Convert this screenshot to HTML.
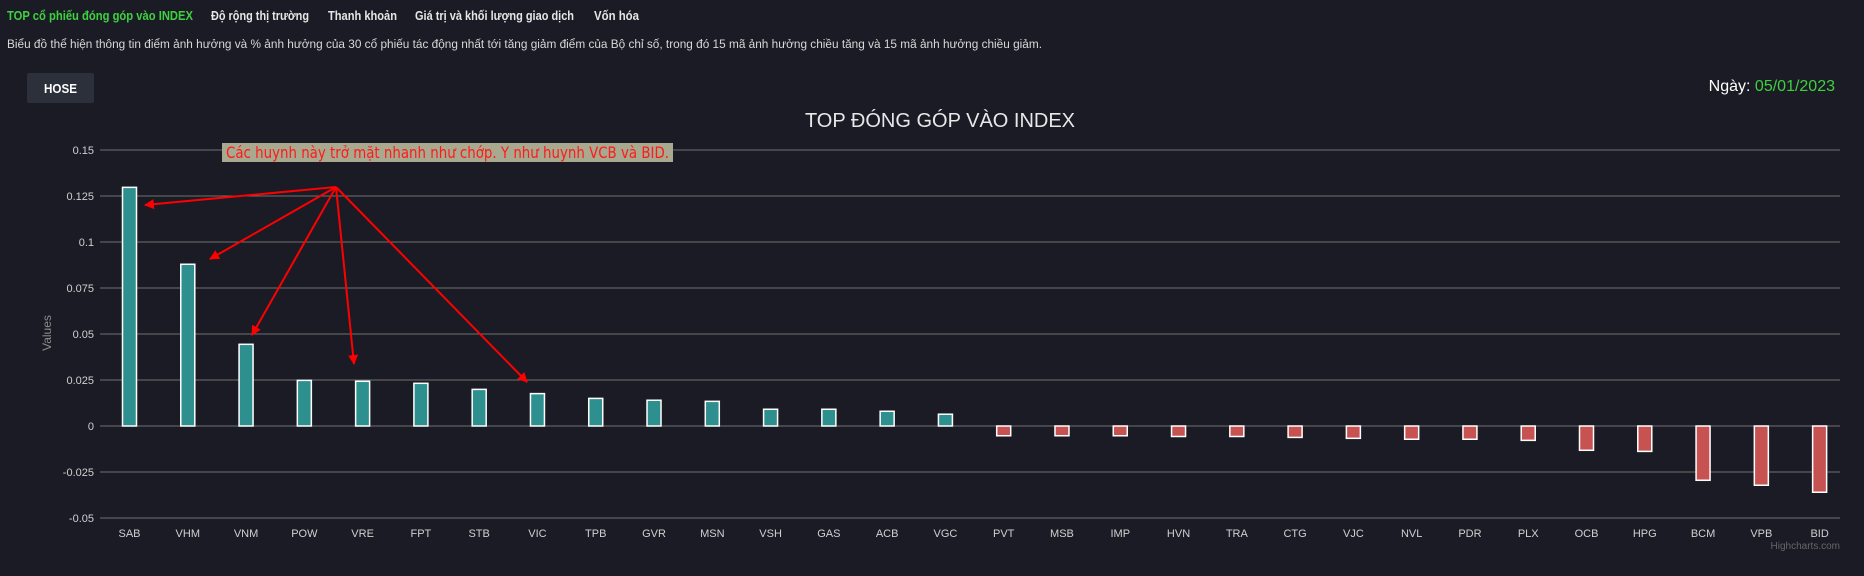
<!DOCTYPE html>
<html><head><meta charset="utf-8"><style>
body{margin:0;width:1864px;height:571px;background:#1b1b25;overflow:hidden;font-family:"Liberation Sans",sans-serif;}
</style></head><body>
<svg width="1864" height="571" xmlns="http://www.w3.org/2000/svg">
<rect width="1864" height="571" fill="#1b1b25"/>
<g font-family="'Liberation Sans',sans-serif" font-weight="bold" font-size="13">
<text x="7" y="20" fill="#3ed13e" textLength="186" lengthAdjust="spacingAndGlyphs">TOP cổ phiếu đóng góp vào INDEX</text>
<text x="211" y="20" fill="#e6e6e6" textLength="98" lengthAdjust="spacingAndGlyphs">Độ rộng thị trường</text>
<text x="328" y="20" fill="#e6e6e6" textLength="69" lengthAdjust="spacingAndGlyphs">Thanh khoản</text>
<text x="415" y="20" fill="#e6e6e6" textLength="159" lengthAdjust="spacingAndGlyphs">Giá trị và khối lượng giao dịch</text>
<text x="594" y="20" fill="#e6e6e6" textLength="45" lengthAdjust="spacingAndGlyphs">Vốn hóa</text>
</g>
<text x="7" y="48" fill="#d8d8d8" font-size="12.3" textLength="1035" lengthAdjust="spacingAndGlyphs">Biểu đồ thể hiện thông tin điểm ảnh hưởng và % ảnh hưởng của 30 cổ phiếu tác động nhất tới tăng giảm điểm của Bộ chỉ số, trong đó 15 mã ảnh hưởng chiều tăng và 15 mã ảnh hưởng chiều giảm.</text>
<rect x="27" y="73" width="67" height="30" rx="2" fill="#2b303b"/>
<text x="60.5" y="93" fill="#fff" font-size="13" font-weight="bold" text-anchor="middle" textLength="33" lengthAdjust="spacingAndGlyphs">HOSE</text>
<text x="1835" y="91" text-anchor="end" font-size="16"><tspan fill="#fff">Ngày: </tspan><tspan fill="#3ed13e">05/01/2023</tspan></text>
<text x="940" y="127" text-anchor="middle" fill="#e8e8e8" font-size="20">TOP ĐÓNG GÓP VÀO INDEX</text>
<text transform="translate(51,333) rotate(-90)" text-anchor="middle" fill="#8a8a8a" font-size="12">Values</text>
<g id="grid"></g><g id="bars"></g><g id="xl"></g>
<text x="1840" y="549" text-anchor="end" fill="#666" font-size="10">Highcharts.com</text>
<rect x="222" y="143" width="451" height="19" fill="#a8a98e"/>
<text x="226" y="158" fill="#ff1a1a" font-size="16" textLength="443" lengthAdjust="spacingAndGlyphs" font-family="'DejaVu Sans',sans-serif">Các huynh này trở mặt nhanh như chớp. Y như huynh VCB và BID.</text>
<defs><marker id="ah" markerWidth="10" markerHeight="10" refX="9" refY="5" orient="auto" markerUnits="userSpaceOnUse"><path d="M0,0 L10,5 L0,10 z" fill="#f00"/></marker></defs>
<g stroke="#f00" stroke-width="2" marker-end="url(#ah)">
<line x1="336" y1="187" x2="145" y2="205"/>
<line x1="336" y1="187" x2="210" y2="259"/>
<line x1="336" y1="187" x2="252" y2="335"/>
<line x1="336" y1="187" x2="354" y2="364"/>
<line x1="336" y1="187" x2="527" y2="382"/>
</g>
</svg>
<script>
const categories=["SAB","VHM","VNM","POW","VRE","FPT","STB","VIC","TPB","GVR","MSN","VSH","GAS","ACB","VGC","PVT","MSB","IMP","HVN","TRA","CTG","VJC","NVL","PDR","PLX","OCB","HPG","BCM","VPB","BID"];
const values=[0.1297,0.0879,0.0444,0.0248,0.0243,0.0232,0.0199,0.0176,0.0150,0.0140,0.0134,0.0091,0.0091,0.0080,0.0064,-0.0053,-0.0053,-0.0053,-0.0057,-0.0057,-0.0062,-0.0067,-0.0072,-0.0072,-0.0078,-0.0132,-0.0138,-0.0295,-0.0322,-0.0360];
const yTicks=[0.15,0.125,0.1,0.075,0.05,0.025,0,-0.025,-0.05];
const yTickLabels=["0.15","0.125","0.1","0.075","0.05","0.025","0","-0.025","-0.05"];
const NS="http://www.w3.org/2000/svg";
const y=v=>426-(v)*1840;
const x=i=>129.5+i*58.28;
const grid=document.getElementById('grid'),bars=document.getElementById('bars'),xl=document.getElementById('xl');
function mk(tag,attrs,parent){const e=document.createElementNS(NS,tag);for(const k in attrs)e.setAttribute(k,attrs[k]);parent.appendChild(e);return e;}
yTicks.forEach((t,i)=>{
  const l=mk('line',{x1:100,x2:1840,y1:y(t),y2:y(t),stroke:'#707070','stroke-width':1},grid);
  
  
  const tx=mk('text',{x:94,y:y(t)+4,'text-anchor':'end',fill:'#d0d0d0','font-size':11},grid);
  tx.textContent=yTickLabels[i];
  
  
});
categories.forEach((c,i)=>{
  const v=values[i];
  const top=Math.min(y(v),y(0)),h=Math.abs(y(v)-y(0));
  const r=mk('rect',{x:x(i)-7,y:top,width:14,height:h,fill:v>=0?'#2e8f8f':'#c75252',stroke:'#fff','stroke-width':1.5},bars);
  
  
  const t=mk('text',{x:x(i),y:537,'text-anchor':'middle',fill:'#d0d0d0','font-size':11},xl);
  t.textContent=c;
  
  
});
</script>
</body></html>
